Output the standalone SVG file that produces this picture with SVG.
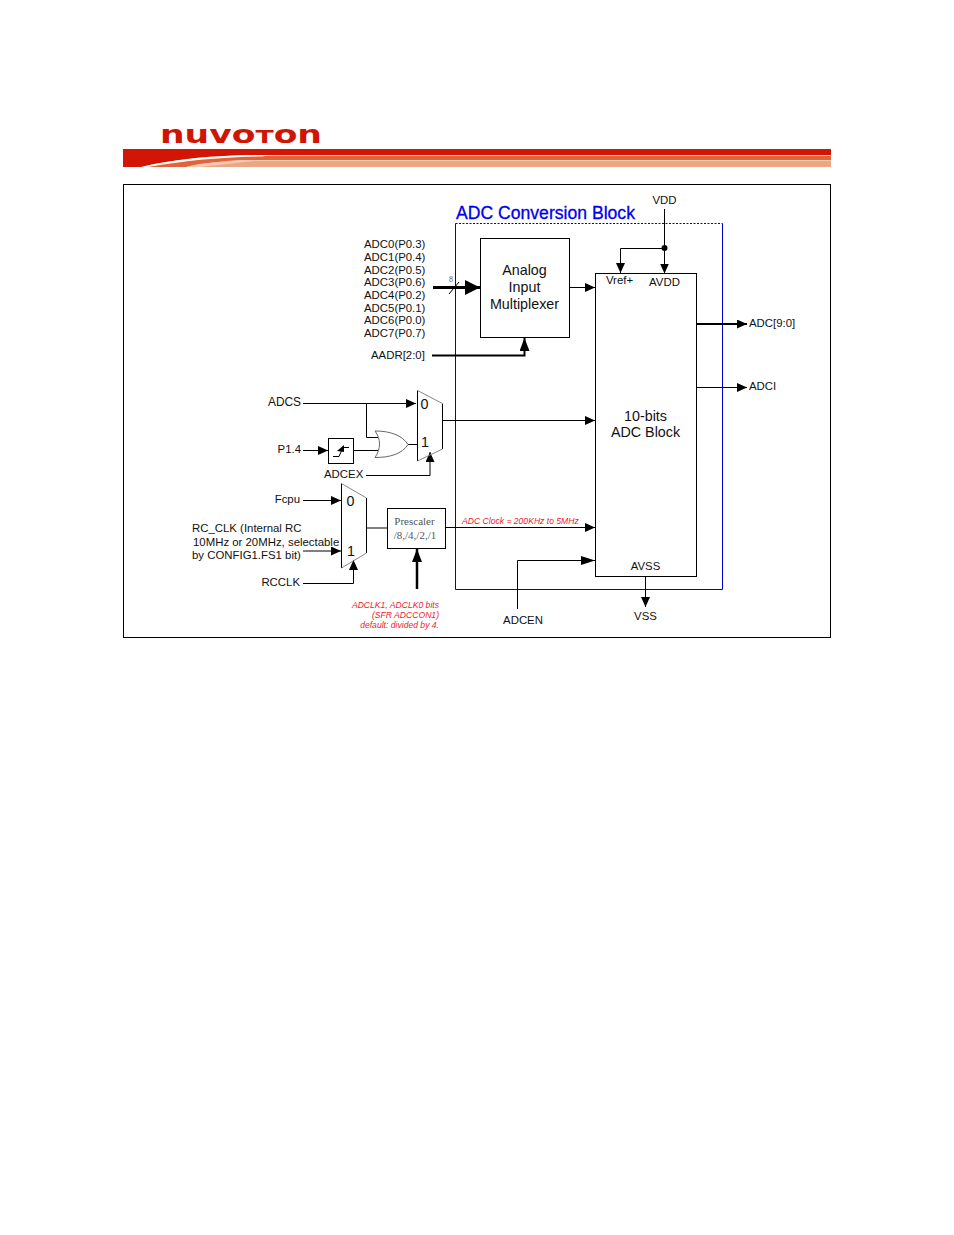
<svg xmlns="http://www.w3.org/2000/svg" width="954" height="1235" viewBox="0 0 954 1235">
<style>
text{font-family:"Liberation Sans",Arial,sans-serif;fill:#111}
.l{font-size:11.400px}
.m{font-size:14.300px}
.s{font-family:"Liberation Serif","Times New Roman",serif;font-size:11px;fill:#555}
.r{font-size:8.600px;font-style:italic;fill:#f02030}
.c{text-anchor:middle}
.e{text-anchor:end}
.w{fill:none;stroke:#000;stroke-width:1}
.t{fill:none;stroke:#000;stroke-width:2}
.box{fill:#fff;stroke:#000;stroke-width:1}
</style>
<defs>
<marker id="a" markerUnits="userSpaceOnUse" markerWidth="11" markerHeight="10" refX="10" refY="4.500" orient="auto"><path d="M0 0L10 4.500L0 9Z" fill="#000"/></marker>
<marker id="b" markerUnits="userSpaceOnUse" markerWidth="16" markerHeight="16" refX="15" refY="7.500" orient="auto"><path d="M0 0L15 7.500L0 15Z" fill="#000"/></marker>
<marker id="c" markerUnits="userSpaceOnUse" markerWidth="14" markerHeight="12" refX="13" refY="5" orient="auto"><path d="M0 0L13 5L0 10Z" fill="#000"/></marker>
<marker id="d" markerUnits="userSpaceOnUse" markerWidth="15" markerHeight="10" refX="14" refY="4.500" orient="auto"><path d="M0 0L14 4.500L0 9Z" fill="#000"/></marker>
</defs>
<rect width="954" height="1235" fill="#fff"/>
<g id="header">
<text x="160" y="142.500" font-size="24" font-weight="bold" textLength="162" lengthAdjust="spacingAndGlyphs" style="fill:#d01505;font-family:'DejaVu Sans',sans-serif">nuvo<tspan font-size="18.500">T</tspan>on</text>
<rect x="123" y="149" width="708" height="18" fill="#eba683"/>
<rect x="123" y="155" width="708" height="6" fill="#f3c9b2"/>
<rect x="123" y="156" width="708" height="4" fill="#e0653a"/>
<path d="M123 149H831V155H270C220 155 180 158 141 167H123Z" fill="#d21505"/>
<path d="M146 167C185 160 220 156.500 262 156V159C230 160 200 163 186 167Z" fill="#e0653a"/>
<path d="M141 167C180 158 220 155 270 155L262 156.500C220 157 185 161 148 167Z" fill="#fff"/>
<path d="M186 167C200 163 230 160.500 262 160L200 167Z" fill="#f3c9b2"/>
</g>
<rect id="frame" x="123.500" y="184.500" width="707" height="453" fill="none" stroke="#000"/>
<g id="conversion-block">
<path d="M455.500 223.500H722.500" fill="none" stroke="#00c" stroke-dasharray="2 1.500"/>
<path d="M455.500 223.500V589.500H722.500V223.500" fill="none" stroke="#00c"/>
<text x="456" y="219" font-size="17.600" stroke="#0000ee" stroke-width="0.300" style="fill:#0000ee">ADC Conversion Block</text>
</g>
<g id="connectors">
<path class="t" d="M433 287.500H480" marker-end="url(#b)" style="stroke-width:3"/>
<path class="w" d="M449 294L459 282"/>
<path class="t" d="M432 355.500H524.500V338" marker-end="url(#c)"/>
<path class="w" d="M570 287.500H595" marker-end="url(#a)"/>
<path class="w" d="M664.500 209V273.500" marker-end="url(#a)"/>
<path class="w" d="M664.500 248.500H620.500V273" marker-end="url(#a)"/>
<circle cx="664.500" cy="248" r="3" fill="#000"/>
<path class="t" d="M697 324H747" marker-end="url(#a)"/>
<path class="w" d="M697 387.500H747" marker-end="url(#a)"/>
<path class="w" d="M303 403.500H416" marker-end="url(#a)"/>
<path class="w" d="M366.500 403.500V437.500H378"/>
<path class="w" d="M303 450.500H328" marker-end="url(#a)"/>
<path class="w" d="M354 450.500H378"/>
<path class="w" d="M408 444.500H417"/>
<path class="w" d="M366 475.500H430V452" marker-end="url(#a)"/>
<path class="w" d="M443 420.500H595" marker-end="url(#a)"/>
<path class="w" d="M303 500.500H341" marker-end="url(#a)"/>
<path class="w" d="M303 551H341" marker-end="url(#a)"/>
<path class="w" d="M303 583.500H353.500V560" marker-end="url(#a)"/>
<path class="w" d="M367 528H387"/>
<path class="w" d="M446 527.500H595" marker-end="url(#a)"/>
<path d="M417 589V549" fill="none" stroke="#000" stroke-width="2.500" marker-end="url(#c)"/>
<path class="w" d="M517.500 609V560.500H595" marker-end="url(#d)"/>
<path class="w" d="M645.500 577V607" marker-end="url(#a)"/>
</g>
<g id="analog-mux">
<rect class="box" x="480.500" y="238.500" width="89" height="99"/>
<text class="m c" x="524.500" y="275">Analog</text>
<text class="m c" x="524.500" y="292">Input</text>
<text class="m c" x="524.500" y="309">Multiplexer</text>
</g>
<g id="adc-block">
<rect class="box" x="595.500" y="273.500" width="101" height="303"/>
<text class="l c" x="619.500" y="284">Vref+</text>
<text class="l c" x="664.500" y="286">AVDD</text>
<text class="m c" x="645.500" y="421">10-bits</text>
<text class="m c" x="645.500" y="437">ADC Block</text>
<text class="l c" x="645.500" y="570">AVSS</text>
</g>
<g id="mux-top">
<path d="M417.500 390.500V461M442.500 403.500V449" fill="none" stroke="#000"/>
<path d="M417.500 390.500L442.500 403.500M442.500 449L417.500 461" fill="none" stroke="#888"/>
<text class="m" x="420.500" y="409">0</text>
<text class="m" x="421" y="447">1</text>
</g>
<g id="mux-bottom">
<path d="M341.500 483.500V568M366.500 498V553" fill="none" stroke="#000"/>
<path d="M341.500 483.500L366.500 498M366.500 553L341.500 568" fill="none" stroke="#888"/>
<text class="m" x="346.500" y="506">0</text>
<text class="m" x="347" y="556">1</text>
</g>
<g id="or-gate">
<path d="M375 431C390 431 402 435 408 444.500C402 454 390 457.500 375 457.500C381 449 381 439 375 431Z" fill="#fff" stroke="#666"/>
</g>
<g id="edge-detector">
<rect class="box" x="328.500" y="438.500" width="25" height="25"/>
<path d="M333 456.500H339L343 447.500H349" fill="none" stroke="#000"/>
<path d="M337 451L344 445V452Z" fill="#000"/>
</g>
<g id="prescaler">
<rect class="box" x="387.500" y="508.500" width="58" height="40"/>
<text class="s c" x="414.500" y="525">Prescaler</text>
<text class="s c" x="415" y="539">/8,/4,/2,/1</text>
</g>
<g id="labels">
<text class="l" x="364" y="248">ADC0(P0.3)</text>
<text class="l" x="364" y="261">ADC1(P0.4)</text>
<text class="l" x="364" y="274">ADC2(P0.5)</text>
<text class="l" x="364" y="286">ADC3(P0.6)</text>
<text class="l" x="364" y="299">ADC4(P0.2)</text>
<text class="l" x="364" y="312">ADC5(P0.1)</text>
<text class="l" x="364" y="324">ADC6(P0.0)</text>
<text class="l" x="364" y="337">ADC7(P0.7)</text>
<text class="s" x="449" y="282" style="font-size:8px">8</text>
<text class="l" x="371" y="359">AADR[2:0]</text>
<text class="l c" x="664.500" y="204">VDD</text>
<text class="l" x="749" y="327">ADC[9:0]</text>
<text class="l" x="749" y="390">ADCI</text>
<text class="l e" x="301" y="406" style="font-size:11.900px">ADCS</text>
<text class="l e" x="301" y="453">P1.4</text>
<text class="l" x="324" y="478">ADCEX</text>
<text class="l e" x="300" y="503">Fcpu</text>
<text class="l" x="192" y="532">RC_CLK (Internal RC</text>
<text class="l" x="193" y="546">10MHz or 20MHz, selectable</text>
<text class="l" x="192" y="559">by CONFIG1.FS1 bit)</text>
<text class="l e" x="300" y="586">RCCLK</text>
<text class="r" x="462" y="524">ADC Clock = 200KHz to 5MHz</text>
<text class="r e" x="439" y="608">ADCLK1, ADCLK0 bits</text>
<text class="r e" x="439" y="618">(SFR ADCCON1)</text>
<text class="r e" x="439" y="628">default: divided by 4.</text>
<text class="l c" x="523" y="624">ADCEN</text>
<text class="l c" x="645.500" y="620">VSS</text>
</g>
</svg>
